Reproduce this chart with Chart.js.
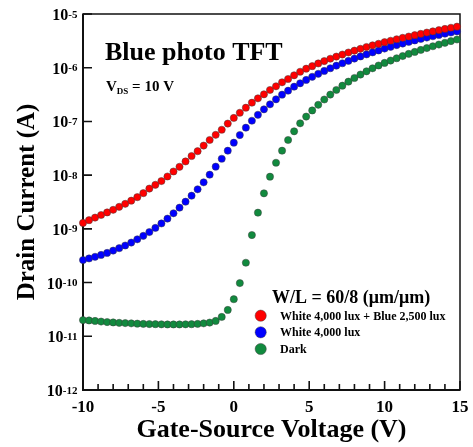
<!DOCTYPE html>
<html>
<head>
<meta charset="utf-8">
<script src="https://cdn.jsdelivr.net/npm/chart.js@4.4.1/dist/chart.umd.min.js"></script>
<style>
  html, body { margin: 0; padding: 0; background: #fff; }
  canvas { display: block; }
</style>
</head>
<body>
<canvas id="chart" width="473" height="447"></canvas>
<script>
// gate-source voltage (V), 0.4 V steps
const vgs = [
  -10, -9.6, -9.2, -8.8, -8.4, -8, -7.6, -7.2, -6.8, -6.4, -6, -5.6, -5.2, -4.8, -4.4, -4,
  -3.6, -3.2, -2.8, -2.4, -2, -1.6, -1.2, -0.8, -0.4, 0, 0.4, 0.8, 1.2, 1.6, 2, 2.4,
  2.8, 3.2, 3.6, 4, 4.4, 4.8, 5.2, 5.6, 6, 6.4, 6.8, 7.2, 7.6, 8, 8.4, 8.8,
  9.2, 9.6, 10, 10.4, 10.8, 11.2, 11.6, 12, 12.4, 12.8, 13.2, 13.6, 14, 14.4, 14.8
];

// drain current (A)
const idWhiteBlue = [
  1.29e-9, 1.45e-9, 1.62e-9, 1.81e-9, 2.02e-9, 2.26e-9, 2.57e-9, 2.92e-9, 3.35e-9, 3.89e-9,
  4.62e-9, 5.62e-9, 6.61e-9, 7.76e-9, 9.44e-9, 1.17e-8, 1.43e-8, 1.80e-8, 2.27e-8, 2.79e-8,
  3.55e-8, 4.51e-8, 5.62e-8, 7.00e-8, 9.12e-8, 1.16e-7, 1.45e-7, 1.80e-7, 2.23e-7, 2.69e-7,
  3.20e-7, 3.85e-7, 4.51e-7, 5.35e-7, 6.17e-7, 7.23e-7, 8.41e-7, 9.59e-7, 1.07e-6, 1.20e-6,
  1.33e-6, 1.47e-6, 1.61e-6, 1.76e-6, 1.92e-6, 2.08e-6, 2.25e-6, 2.43e-6, 2.61e-6, 2.79e-6,
  2.99e-6, 3.18e-6, 3.39e-6, 3.60e-6, 3.81e-6, 4.04e-6, 4.27e-6, 4.51e-6, 4.75e-6, 5.01e-6,
  5.27e-6, 5.55e-6, 5.82e-6
];
const idWhite = [
  2.63e-10, 2.81e-10, 3.02e-10, 3.27e-10, 3.57e-10, 3.94e-10, 4.37e-10, 4.90e-10, 5.56e-10, 6.38e-10,
  7.41e-10, 8.71e-10, 1.04e-9, 1.26e-9, 1.55e-9, 1.95e-9, 2.48e-9, 3.20e-9, 4.14e-9, 5.45e-9,
  7.35e-9, 1.02e-8, 1.44e-8, 2.02e-8, 2.85e-8, 4.02e-8, 5.58e-8, 7.64e-8, 1.03e-7, 1.33e-7,
  1.68e-7, 2.08e-7, 2.58e-7, 3.15e-7, 3.73e-7, 4.43e-7, 5.13e-7, 5.92e-7, 6.78e-7, 7.71e-7,
  8.71e-7, 9.77e-7, 1.09e-6, 1.21e-6, 1.34e-6, 1.48e-6, 1.62e-6, 1.77e-6, 1.93e-6, 2.09e-6,
  2.27e-6, 2.45e-6, 2.64e-6, 2.82e-6, 3.02e-6, 3.22e-6, 3.43e-6, 3.64e-6, 3.85e-6, 4.07e-6,
  4.30e-6, 4.52e-6, 4.74e-6
];
const idDark = [
  2.00e-11, 1.97e-11, 1.93e-11, 1.88e-11, 1.84e-11, 1.81e-11, 1.78e-11, 1.76e-11, 1.74e-11, 1.72e-11,
  1.70e-11, 1.69e-11, 1.68e-11, 1.67e-11, 1.66e-11, 1.66e-11, 1.66e-11, 1.67e-11, 1.68e-11, 1.70e-11,
  1.74e-11, 1.80e-11, 1.93e-11, 2.29e-11, 3.09e-11, 4.90e-11, 9.77e-11, 2.34e-10, 7.67e-10, 2.00e-9,
  4.59e-9, 9.35e-9, 1.70e-8, 2.85e-8, 4.51e-8, 6.55e-8, 9.23e-8, 1.23e-7, 1.60e-7, 2.04e-7,
  2.56e-7, 3.16e-7, 3.85e-7, 4.63e-7, 5.50e-7, 6.44e-7, 7.46e-7, 8.57e-7, 9.75e-7, 1.10e-6,
  1.23e-6, 1.36e-6, 1.50e-6, 1.65e-6, 1.81e-6, 1.97e-6, 2.14e-6, 2.32e-6, 2.51e-6, 2.70e-6,
  2.91e-6, 3.13e-6, 3.35e-6
];

const seriesLabels = ['White 4,000 lux + Blue 2,500 lux', 'White 4,000 lux', 'Dark'];
const seriesColors = ['#ff0000', '#0000ff', '#118a3e'];

const yTickExps = [-12, -11, -10, -9, -8, -7, -6, -5];
const xMajorTicks = [-10, -5, 0, 5, 10, 15];
const xMinorTicks = [-9, -8, -7, -6, -4, -3, -2, -1, 1, 2, 3, 4, 6, 7, 8, 9, 11, 12, 13, 14];

const SERIF = '"Liberation Serif", "Times New Roman", serif';

function toPoints(ys) {
  return vgs.map((v, i) => ({ x: v, y: ys[i] }));
}

const sigmaAxes = {
  id: 'sigmaAxes',
  beforeDatasetsDraw(chart) {
    const { ctx, chartArea: a } = chart;
    const xs = chart.scales.x, ys = chart.scales.y;
    ctx.save();
    ctx.strokeStyle = '#111';
    ctx.lineWidth = 1.5;
    ctx.strokeRect(a.left, a.top, a.right - a.left, a.bottom - a.top);
    ctx.lineWidth = 2;
    ctx.beginPath();
    ctx.moveTo(a.left, a.top);
    ctx.lineTo(a.left, a.bottom);
    ctx.lineTo(a.right, a.bottom);
    ctx.stroke();

    ctx.lineWidth = 1.6;
    ctx.beginPath();
    yTickExps.forEach(e => {
      const py = ys.getPixelForValue(Math.pow(10, e));
      ctx.moveTo(a.left, py);
      ctx.lineTo(a.left + 9, py);
    });
    xMajorTicks.forEach(v => {
      const px = xs.getPixelForValue(v);
      ctx.moveTo(px, a.bottom);
      ctx.lineTo(px, a.bottom - 9);
    });
    xMinorTicks.forEach(v => {
      const px = xs.getPixelForValue(v);
      ctx.moveTo(px, a.bottom);
      ctx.lineTo(px, a.bottom - 6);
    });
    ctx.stroke();
    ctx.restore();
  },
  afterDraw(chart) {
    const { ctx, chartArea: a } = chart;
    const xs = chart.scales.x, ys = chart.scales.y;
    ctx.save();
    ctx.fillStyle = '#000';
    ctx.textBaseline = 'alphabetic';

    // y tick labels 10^n
    const right = a.left - 5.5;
    yTickExps.forEach(e => {
      const py = ys.getPixelForValue(Math.pow(10, e));
      const sup = String(e);
      ctx.font = 'bold 11px ' + SERIF;
      const sw = ctx.measureText(sup).width;
      ctx.textAlign = 'left';
      ctx.fillText(sup, right - sw, py + 3.5);
      ctx.font = 'bold 16px ' + SERIF;
      const bw = ctx.measureText('10').width;
      ctx.fillText('10', right - sw - bw, py + 6);
    });

    // x tick labels
    ctx.font = 'bold 17px ' + SERIF;
    ctx.textAlign = 'center';
    xMajorTicks.forEach(v => {
      ctx.fillText(String(v), xs.getPixelForValue(v), a.bottom + 22);
    });

    // axis titles
    ctx.font = 'bold 26px ' + SERIF;
    ctx.fillText('Gate-Source Voltage (V)', (a.left + a.right) / 2, 437);
    ctx.save();
    ctx.translate(34, (a.top + a.bottom) / 2);
    ctx.rotate(-Math.PI / 2);
    ctx.font = 'bold 25px ' + SERIF;
    ctx.fillText('Drain Current (A)', 0, 0);
    ctx.restore();

    // in-plot annotations
    ctx.textAlign = 'left';
    ctx.font = 'bold 26px ' + SERIF;
    ctx.fillText('Blue photo TFT', 105, 60);
    ctx.font = 'bold 15px ' + SERIF;
    ctx.fillText('V', 106, 91);
    let cx = 106 + ctx.measureText('V').width;
    ctx.font = 'bold 9px ' + SERIF;
    ctx.fillText('DS', cx, 94);
    cx += ctx.measureText('DS').width;
    ctx.font = 'bold 15px ' + SERIF;
    ctx.fillText(' = 10 V', cx, 91);

    // legend
    ctx.font = 'bold 18px ' + SERIF;
    ctx.fillText('W/L = 60/8 (\u03bcm/\u03bcm)', 272, 303);
    const rows = [315.7, 332.3, 349];
    chart.data.datasets.forEach((ds, i) => {
      ctx.beginPath();
      ctx.arc(260.7, rows[i], 5.6, 0, Math.PI * 2);
      ctx.fillStyle = ds.backgroundColor;
      ctx.fill();
      ctx.lineWidth = 0.6;
      ctx.strokeStyle = 'rgba(60,60,60,0.8)';
      ctx.stroke();
      ctx.fillStyle = '#000';
      ctx.font = 'bold 12px ' + SERIF;
      ctx.fillText(ds.label, 280, rows[i] + 4);
    });
    ctx.restore();
  }
};

const seriesData = [idWhiteBlue, idWhite, idDark];

new Chart(document.getElementById('chart'), {
  type: 'scatter',
  data: {
    datasets: seriesData.map((ys, i) => ({
      label: seriesLabels[i],
      data: toPoints(ys),
      backgroundColor: seriesColors[i],
      borderColor: 'rgba(60,60,60,0.8)',
      borderWidth: 0.6,
      pointRadius: 3.6,
      clip: false
    }))
  },
  options: {
    responsive: false,
    animation: false,
    devicePixelRatio: 1,
    layout: { padding: { left: 83, top: 14, right: 13, bottom: 57 } },
    scales: {
      x: { type: 'linear', min: -10, max: 15, display: false },
      y: { type: 'logarithmic', min: 1e-12, max: 1e-5, display: false }
    },
    plugins: {
      legend: { display: false },
      tooltip: { enabled: false }
    }
  },
  plugins: [sigmaAxes]
});
</script>
</body>
</html>
